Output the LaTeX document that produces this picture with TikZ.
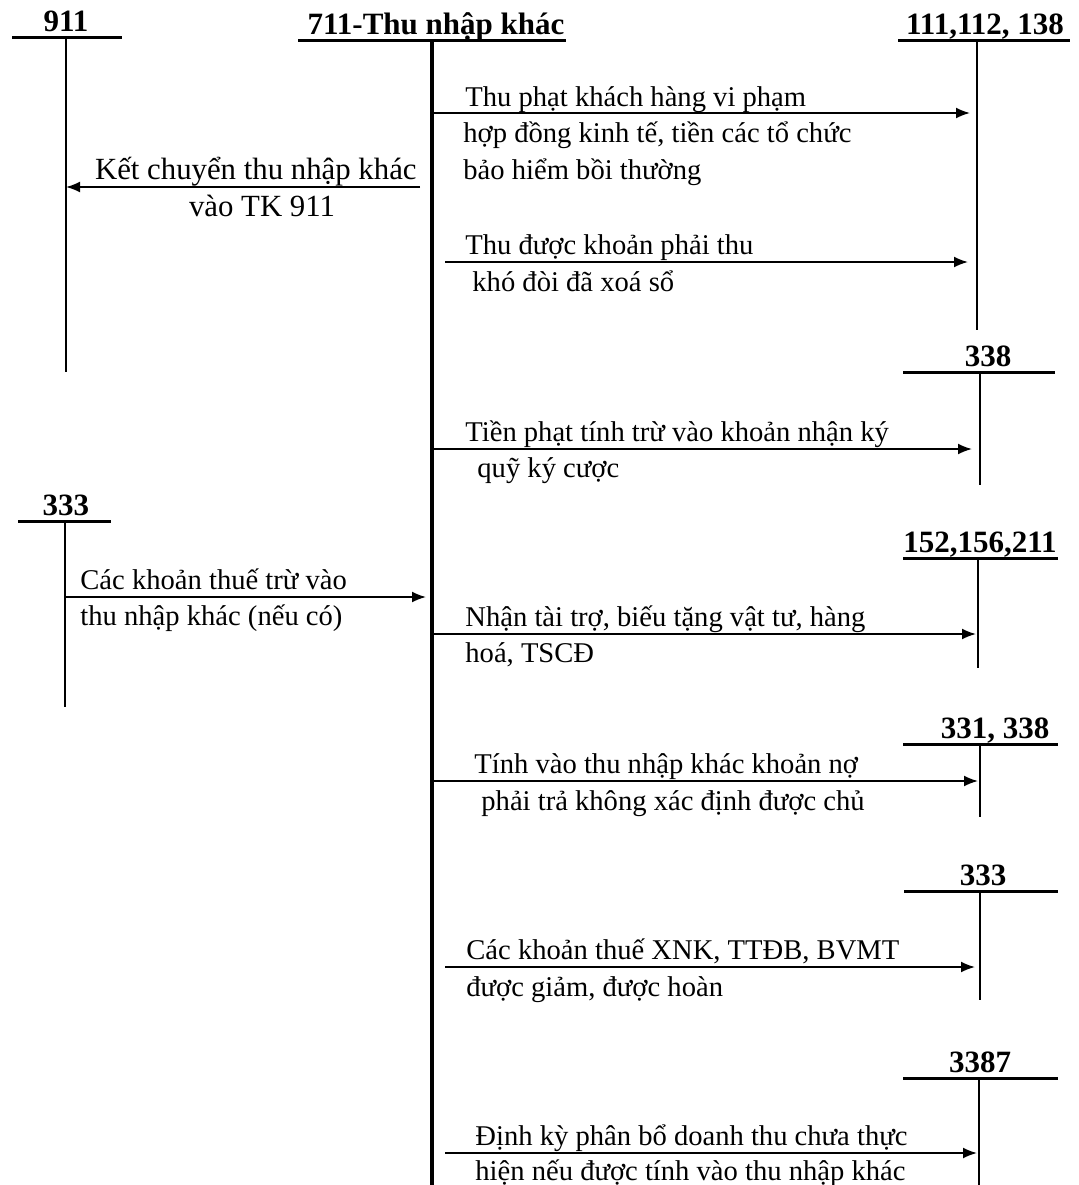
\documentclass[tikz,border=0pt]{standalone}
\usepackage{fontspec}
\setmainfont{Liberation Serif}
\usetikzlibrary{arrows.meta}

\begin{document}
\begin{tikzpicture}[x=0.5pt,y=-0.5pt,
    hd/.style={font=\fontsize{15.5}{18}\selectfont\bfseries,anchor=base,inner sep=0pt},
    tl/.style={line width=1.5pt},
    txt/.style={font=\fontsize{14.3}{18}\selectfont,anchor=base west,inner sep=0pt},
    arr/.style={line width=0.9pt,-{Latex[length=7pt,width=5.5pt]}}]
  \useasboundingbox (0,0) rectangle (1079,1185);
  \foreach \nm/\lbl/\lx/\vx/\y/\yb/\l/\r/\w in {
      911/911/66/66/37/372/12/122/1,
      711/711-Thu nhập khác/436/432/40/1185/298/566/1.8,
      111/{111,112, 138}/985/977/40/330/898/1070/1,
      338/338/988/980/372/485/903/1055/1,
      333l/333/66/65/521/707/18/111/1,
      152/{152,156,211}/980/978/558/668/903/1058/1,
      331/{331, 338}/995/980/744/817/903/1058/1,
      333r/333/983/980/891/1000/904/1058/1,
      3387/3387/980/979/1078/1185/903/1058/1}{
    \draw[tl] (\l,\y) -- (\r,\y);
    \node[hd] (a\nm) at (\lx,\y-6) {\lbl};
    \draw[line width=\w pt] (\vx,\y) coordinate (v\nm) -- (\vx,\yb);
  }

  \draw[arr,shorten >=3.5pt] (v711 |- 0,113) -- (v111 |- 0,113);
  \node[txt] (t1a) at (465,106) {Thu phạt khách hàng vi phạm};
  \node[txt] (t1b) at (463,142.5) {hợp đồng kinh tế, tiền các tổ chức};
  \node[txt] (t1c) at (463,179) {bảo hiểm bồi thường};

  \draw[arr,shorten <=6pt] (v711 |- 0,187) -- (v911 |- 0,187);
  \node[txt,anchor=base east,font=\fontsize{15.4}{18}\selectfont] (t2a) at (417,179) {Kết chuyển thu nhập khác};
  \node[txt,anchor=base,font=\fontsize{15.4}{18}\selectfont] (t2b) at (262,216) {vào TK 911};

  \draw[arr,shorten <=6.5pt,shorten >=4.5pt] (v711 |- 0,262) -- (v111 |- 0,262);
  \node[txt] (t3a) at (465,254) {Thu được khoản phải thu};
  \node[txt] (t3b) at (472,291) {khó đòi đã xoá sổ};

  \draw[arr,shorten >=4pt] (v711 |- 0,449) -- (v338 |- 0,449);
  \node[txt] (t4a) at (465,441) {Tiền phạt tính trừ vào khoản nhận ký};
  \node[txt] (t4b) at (477,477) {quỹ ký cược};

  \draw[arr,shorten >=3pt] (v333l |- 0,597) -- (v711 |- 0,597);
  \node[txt] (t5a) at (80,589) {Các khoản thuế trừ vào};
  \node[txt] (t5b) at (80,625) {thu nhập khác (nếu có)};

  \draw[arr,shorten >=1pt] (v711 |- 0,634) -- (v152 |- 0,634);
  \node[txt] (t6a) at (465,626) {Nhận tài trợ, biếu tặng vật tư, hàng};
  \node[txt] (t6b) at (465,662) {hoá, TSCĐ};

  \draw[arr,shorten >=1pt] (v711 |- 0,781) -- (v331 |- 0,781);
  \node[txt] (t7a) at (474,773) {Tính vào thu nhập khác khoản nợ};
  \node[txt] (t7b) at (481,810) {phải trả không xác định được chủ};

  \draw[arr,shorten <=6.5pt,shorten >=2.5pt] (v711 |- 0,967) -- (v333r |- 0,967);
  \node[txt] (t8a) at (466,959) {Các khoản thuế XNK, TTĐB, BVMT};
  \node[txt] (t8b) at (466,996) {được giảm, được hoàn};

  \draw[arr,shorten <=6.5pt,shorten >=1pt] (v711 |- 0,1153) -- (v3387 |- 0,1153);
  \node[txt] (t9a) at (475,1145) {Định kỳ phân bổ doanh thu chưa thực};
  \node[txt] (t9b) at (475,1180) {hiện nếu được tính vào thu nhập khác};
\end{tikzpicture}
\end{document}
